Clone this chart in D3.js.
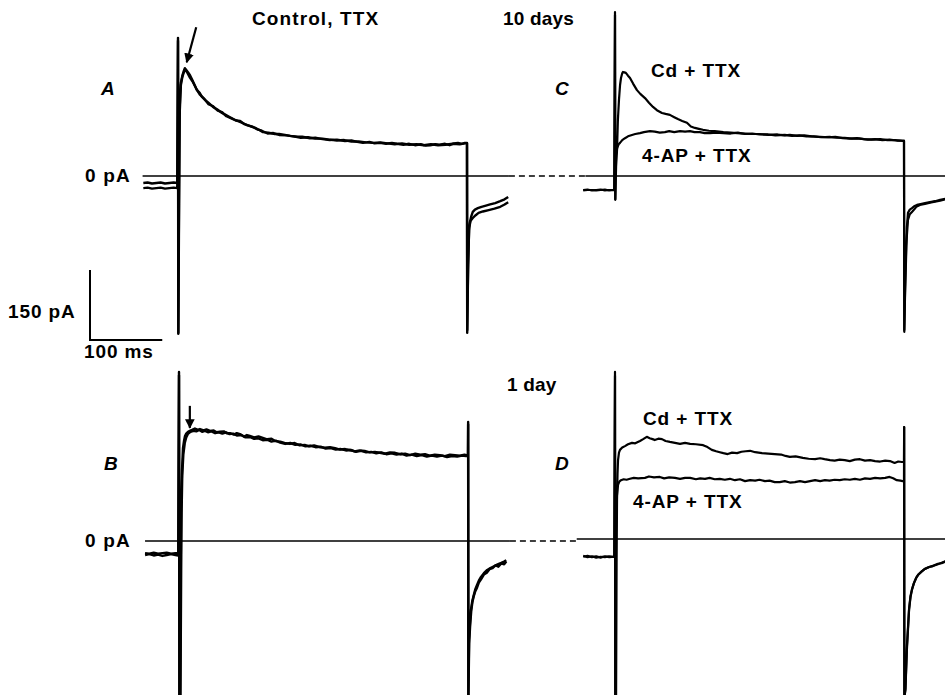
<!DOCTYPE html>
<html>
<head>
<meta charset="utf-8">
<script src="https://cdn.jsdelivr.net/npm/d3@7"></script>
<style>
  html, body { margin: 0; padding: 0; background: #fff; }
  svg { display: block; }
  text { font-family: "Liberation Sans", Arial, Helvetica, sans-serif; font-weight: bold; fill: #000; }
</style>
</head>
<body>
<svg id="chart" width="945" height="695"></svg>
<script>
// ---------------- DATA (time in ms from step onset, current in pA) ----------------
const titleLabels = ["Control, TTX", "10 days", "1 day"];
const panelLetters = ["A", "B", "C", "D"];
const drugLabels = ["Cd + TTX", "4-AP + TTX"];
const scaleBarValues = { pA: 150, ms: 100 };

// Panel A : control, TTX, 10 days (two superimposed traces)
const traceA1 = [[-48,-15],[-42,-14],[-36,-16],[-30,-15],[-24,-14],[-18,-16],[-12,-15],[-6,-14],[-1,-15],
 [0,296],[0.4,-338],[1.2,-100],[2,130],[3,175],[4,200],[6,215],[8,225],[9.5,231],[12,226],[14,222],[16.6,216],[20,205],[23,195],[26.3,184],[30,178],[33,170],[37.4,163],[42,157],[48.4,148],[54,143],[60.9,135],[66,131],[72,126],[78,121],[85.8,116],[90,113],[95.5,109],[100,107],[106.6,103],[112,99],[117.6,94],[125,93],[134,90],[140,90],[148,88],[155,86],[164.7,84],[172,84],[182.7,81],[190,82],[200,79],[210,77],[220,78],[231,75],[240,76],[248,73],[256,71],[265,73],[272,70],[279.6,71],[288,69],[296,71],[303,69],[312,67],[320,69],[328,66],[336,68],[343,65],[349,66],[356,68],[362,67],[369.6,69],[376,66],[382,70],[387.5,71],[393,69],[397,71],[400,71],
 [400.3,-336],[401.5,-200],[402.8,-116],[404,-99],[406,-86],[408,-77],[411,-72],[415,-69],[420,-66],[425,-64],[432,-61],[439,-58],[446,-54],[452,-50],[457,-45]];
const traceA2 = [[-48,-26],[-42,-25],[-36,-27],[-30,-26],[-24,-25],[-18,-27],[-12,-26],[-6,-25],[-1,-26],
 [0,290],[0.5,-336],[1.5,-60],[2.5,140],[4,195],[6,212],[8,222],[10,228],[12,224],[16,212],[20,203],[25,188],[30,175],[36,166],[42,154],[48,150],[55,140],[61,137],[67,128],[73,124],[80,119],[86,118],[92,111],[98,108],[104,105],[110,100],[116,97],[124,91],[132,92],[140,88],[150,87],[160,85],[170,82],[180,83],[190,80],[200,80],[210,78],[220,76],[230,77],[240,74],[250,74],[260,72],[270,71],[280,72],[290,70],[300,68],[310,70],[320,67],[330,68],[340,66],[350,68],[360,66],[370,67],[380,69],[390,68],[397,70],[400,70],
 [400.3,-330],[401.5,-190],[403,-111],[405,-96],[408,-90],[412,-84],[416,-79],[422,-76],[430,-73],[438,-70],[446,-66],[452,-61],[457,-56]];

// Panel C : 10 days, Cd + TTX and 4-AP + TTX
const traceCcd = [[-44,-30],[-38,-29],[-32,-31],[-26,-30],[-20,-29],[-14,-31],[-8,-30],[-1,-30],
 [0,351],[0.4,-51],[1.5,20],[2.8,56],[4,120],[5.5,163],[7,195],[8.3,210],[10,220],[11,223],[13,222],[15,221],[18,215],[20.8,210],[25,198],[30.4,184],[35,176],[41.5,167],[47,157],[52.6,148],[58,141],[65,135],[70,133],[76,131],[82,126],[87,122],[93,118],[99.6,114],[105,106],[110.7,103],[116,101],[121.8,99],[130,97],[138,96],[150,94],[160,93],[169,92],[180,91],[190,90],[200,90],[212,88],[225,89],[235,87],[242,88],[252,86],[262,87],[272,85],[284,84],[295,83],[305,84],[315,81],[325,80],[335,81],[345,79],[355,78],[367,79],[377,77],[387.5,77],[394,76],[398,75],[400,75],
 [400.4,-334],[401.5,-250],[402.8,-180],[404,-110],[405.5,-79],[408,-72],[411,-69],[414,-65],[418,-62],[423,-60],[429,-58],[436,-56],[443,-54],[450,-51],[457,-49]];
const traceC4ap = [[-44,-31],[-38,-30],[-32,-30],[-26,-31],[-20,-30],[-14,-29],[-8,-31],[-1,-30],
 [0,345],[0.4,-50],[1.4,45],[3,60],[5,68],[6.9,71],[10,77],[13.8,81],[18,85],[23.5,88],[28,90],[34.6,92],[40,94],[48.4,96],[55,95],[62,93],[69,94],[75,96],[82,94],[90,96],[97,95],[103.8,96],[110,94],[117.6,94],[124,92],[131.5,92],[140,93],[150,92],[160,91],[170,93],[180,90],[190,91],[200,89],[212,89],[222,87],[235,88],[245,86],[255,87],[265,85],[275,85],[285,83],[297,84],[307,82],[318,82],[328,80],[338,80],[350,78],[360,79],[370,77],[380,78],[390,76],[397,76],[400,76],
 [400.4,-330],[401.5,-240],[403,-150],[405.5,-94],[408,-82],[411,-77],[414,-72],[417,-66],[422,-62],[429,-60],[436,-57],[443,-55],[450,-53],[457,-50]];

// Panel B : control, TTX, 1 day (two superimposed traces)
const traceB1 = [[-47,-30],[-41,-28],[-35,-31],[-29,-29],[-23,-32],[-17,-30],[-11,-28],[-5,-30],[-1,-31],
 [0,362],[0.5,-340],[1.5,-340],[2.3,-100],[2.8,45],[3.5,110],[4.2,152],[5.5,199],[7,215],[8.3,225],[10,230],[12.5,234],[15,236],[18,238],[22,241],[26,238],[29,240],[34,237],[38,239],[43,236],[48,237],[52,233],[56.7,234],[62,235],[66,231],[70.6,231],[76,228],[80,231],[84.4,229],[90,224],[94,227],[98,225],[104,222],[110,224],[116,221],[122,218],[128,219],[133,214],[140,213],[146,210],[153.6,208],[160,210],[167,205],[174,206],[180,203],[187,205],[195,201],[202,200],[209,201],[216,199],[223,196],[230,197],[236.7,195],[243,192],[250,194],[257,193],[264,190],[271,191],[278,189],[285,187],[292,190],[299,189],[306,186],[313,187],[320,184],[327,187],[334,185],[340.5,186],[347,183],[354,185],[361,184],[368,182],[375,185],[382,184],[389,183],[395,185],[398,184],[400,184],
 [400.2,255],[400.5,-340],[401.4,-212],[403,-170],[404,-148],[406,-128],[408,-116],[410,-104],[412.5,-94],[415,-85],[418,-77],[422,-69],[426.6,-62],[431,-58],[436,-54],[441,-50],[446,-47],[450,-44],[453,-41]];
const traceB2 = [[-47,-26],[-41,-27],[-35,-25],[-29,-27],[-23,-26],[-17,-25],[-11,-27],[-5,-26],[-1,-26],
 [0,355],[0.6,-340],[2,-340],[3,-60],[3.6,60],[4.5,140],[6,185],[8,210],[10,222],[12.5,230],[16,234],[20,236],[24,235],[28,238],[32,234],[36,236],[40,233],[45,235],[50,231],[55,233],[60,230],[65,233],[70,229],[75,230],[80,226],[86,227],[92,222],[98,223],[104,219],[110,220],[116,216],[122,217],[128,213],[134,215],[140,211],[147,208],[154,210],[161,206],[168,207],[175,203],[182,204],[189,201],[196,202],[203,198],[210,199],[217,196],[224,197],[231,194],[238,195],[245,191],[252,193],[259,190],[266,191],[273,188],[280,190],[287,186],[294,188],[301,185],[308,187],[315,183],[322,185],[329,182],[336,184],[343,181],[350,183],[357,181],[364,183],[371,180],[378,182],[385,181],[392,183],[397,182],[400,182],
 [400.2,250],[400.5,-340],[401.6,-220],[403,-180],[404.5,-150],[406,-132],[408,-118],[410,-108],[412.5,-100],[415,-89],[418,-82],[422,-72],[426,-68],[430,-60],[434,-58],[438,-52],[442,-55],[446,-48],[450,-50],[453,-44]];

// Panel D : 1 day, Cd + TTX and 4-AP + TTX
const traceDcd = [[-44,-38],[-38,-36],[-32,-39],[-26,-37],[-20,-40],[-14,-37],[-8,-39],[-1,-38],
 [0,358],[0.4,-340],[1.5,-340],[2.2,-50],[2.8,84],[3.5,140],[4.2,169],[5.5,185],[6.9,191],[10,196],[13.8,199],[18,203],[23.5,206],[28,205],[34.6,210],[39,214],[44,219],[48,216],[52,214],[55,212],[60,215],[65,214],[70,210],[76,208],[83,206],[90,204],[97,206],[104,204],[112,203],[122,201],[128,197],[134,191],[140,188],[145,186],[150,184],[156,182],[162,185],[169,184],[175,187],[181,188],[187,189],[194,186],[203.5,184],[212,183],[221,182],[230,181],[236,178],[242,176],[250,177],[260,174],[268,172],[277,171],[284,173],[290,171],[297.6,169],[304,168],[311,170],[318,169],[325,167],[332,170],[339,171],[346,168],[353,169],[360,167],[367,166],[374,168],[380.6,167],[387,163],[392,166],[397,165],[400,165],
 [400.2,240],[400.5,-340],[402,-323],[404,-238],[407,-152],[409,-125],[411,-109],[413.5,-95],[416.6,-84],[420,-76],[423.5,-71],[428,-65],[434.6,-60],[440,-58],[447,-54],[452,-51],[458,-47]];
const traceD4ap = [[-44,-36],[-38,-39],[-32,-37],[-26,-40],[-20,-38],[-14,-39],[-8,-37],[-1,-38],
 [0,350],[0.4,-340],[1,-340],[1.4,73],[2.8,95],[4.2,116],[6,123],[8.3,126],[12,128],[16,127],[20.8,129],[26,131],[32,130],[41.5,131],[47,134],[54,132],[62,133],[68,130],[75,132],[83,131],[90,129],[97,131],[104,131],[112,128],[118,130],[124.6,129],[131,131],[138,128],[145,129],[152,127],[159,129],[166,126],[173,128],[180,124],[187,126],[194,125],[200,127],[207.6,124],[214,125],[221,122],[228,122],[235,124],[242,121],[249,122],[256,124],[263,122],[270,124],[277,126],[284,124],[290.6,126],[297,125],[304,127],[311,126],[318,128],[325,127],[332,129],[339,127],[346,130],[353,129],[360,131],[367,130],[374,131],[380,133],[385,130],[390,126],[395,125],[398,124],[400,124],
 [400.2,240],[400.5,-340],[402,-320],[404,-230],[407,-150],[409,-122],[411,-108],[414,-94],[417,-83],[420,-76],[424,-70],[429,-64],[435,-60],[441,-57],[447,-53],[452,-52],[458,-48]];

// ---------------- LAYOUT ----------------
const W = 945, H = 695;
const PX_PER_MS = 0.7225;   // 100 ms = ~72 px
const PX_PER_PA = 70 / 150; // 150 pA = 70 px
const FS = 19;
const LS = 0.9;

const panels = [
  { letter: "A", x0: 178, y0: 176, sw: 2.4, traces: [traceA1, traceA2] },
  { letter: "C", x0: 615, y0: 176, sw: 2.2, traces: [traceCcd, traceC4ap] },
  { letter: "B", x0: 179, y0: 541, sw: 2.4, traces: [traceB1, traceB2] },
  { letter: "D", x0: 615, y0: 539, sw: 2.2, traces: [traceDcd, traceD4ap] }
];
panels.forEach(p => {
  p.x = d3.scaleLinear().domain([0, 400]).range([p.x0, p.x0 + 400 * PX_PER_MS]);
  p.y = d3.scaleLinear().domain([0, 150]).range([p.y0, p.y0 - 150 * PX_PER_PA]);
});
const [pA, pC, pB, pD] = panels;

const svg = d3.select("#chart");
svg.append("rect").attr("width", W).attr("height", H).attr("fill", "#fff");
svg.append("defs").append("marker")
  .attr("id", "arrow").attr("viewBox", "0 0 10 10").attr("refX", 9).attr("refY", 5)
  .attr("markerWidth", 4.4).attr("markerHeight", 4.4).attr("orient", "auto")
  .append("path").attr("d", "M0,0 L10,5 L0,10 Z").attr("fill", "#000");

// zero-current lines (solid under left/right panels, dashed across the gap)
function zeroLine(left, right, leftStart, rightStart) {
  const yy = left.y(0);
  const xa = left.x(leftStart), xb = left.x(458), xc = right.x(rightStart);
  svg.append("line").attr("x1", xa).attr("x2", xb).attr("y1", yy).attr("y2", yy)
    .attr("stroke", "#000").attr("stroke-width", 1.6);
  svg.append("line").attr("x1", xb).attr("x2", xc).attr("y1", yy).attr("y2", yy)
    .attr("stroke", "#000").attr("stroke-width", 1.6).attr("stroke-dasharray", "6,4");
  svg.append("line").attr("x1", xc).attr("x2", W).attr("y1", right.y(0)).attr("y2", right.y(0))
    .attr("stroke", "#000").attr("stroke-width", 1.6);
}
zeroLine(pA, pC, -49, -41);
zeroLine(pB, pD, -47, -53);

// traces
panels.forEach(p => {
  const line = d3.line().x(d => p.x(d[0])).y(d => p.y(d[1])).curve(d3.curveLinear);
  p.traces.forEach(tr => {
    svg.append("path").attr("d", line(tr)).attr("fill", "none")
      .attr("stroke", "#000").attr("stroke-width", p.sw).attr("stroke-linejoin", "round");
  });
});

// arrows marking the early peak (A, B)
svg.append("line")
  .attr("x1", pA.x(10) + 11).attr("y1", pA.y(231) - 41)
  .attr("x2", pA.x(10) + 1.5).attr("y2", pA.y(231) - 6)
  .attr("stroke", "#000").attr("stroke-width", 2.2).attr("marker-end", "url(#arrow)");
svg.append("line")
  .attr("x1", pB.x(15)).attr("y1", pB.y(236) - 25)
  .attr("x2", pB.x(15)).attr("y2", pB.y(236) - 3)
  .attr("stroke", "#000").attr("stroke-width", 2.2).attr("marker-end", "url(#arrow)");

// scale bar
const sbX = 90, sbY = 340;
svg.append("path")
  .attr("d", `M${sbX},${sbY - scaleBarValues.pA * PX_PER_PA} L${sbX},${sbY} L${sbX + scaleBarValues.ms * PX_PER_MS},${sbY}`)
  .attr("fill", "none").attr("stroke", "#000").attr("stroke-width", 2);

function label(x, y, txt, ls) {
  svg.append("text").attr("x", x).attr("y", y).attr("font-size", FS)
    .attr("letter-spacing", ls === undefined ? LS : ls).text(txt);
}
label(8, 318, scaleBarValues.pA + " pA");
label(84, 358, scaleBarValues.ms + " ms");

// titles
label(252, 25, titleLabels[0], 1.1);
label(503, 25, titleLabels[1], 0.2);
label(507, 391, titleLabels[2], 0.2);

// 0 pA labels
label(85, 182, "0 pA", 1.2);
label(85, 547, "0 pA", 1.2);

// panel letters
const letterPos = { A: [101, 95], C: [555, 95], B: [104, 470], D: [555, 470] };
panelLetters.forEach(l => {
  svg.append("text").attr("x", letterPos[l][0]).attr("y", letterPos[l][1])
    .attr("font-size", 19).attr("font-style", "italic").text(l);
});

// drug labels
label(651, 77, drugLabels[0]);
label(642, 162, drugLabels[1]);
label(643, 425, drugLabels[0]);
label(633, 508, drugLabels[1]);
</script>
</body>
</html>
